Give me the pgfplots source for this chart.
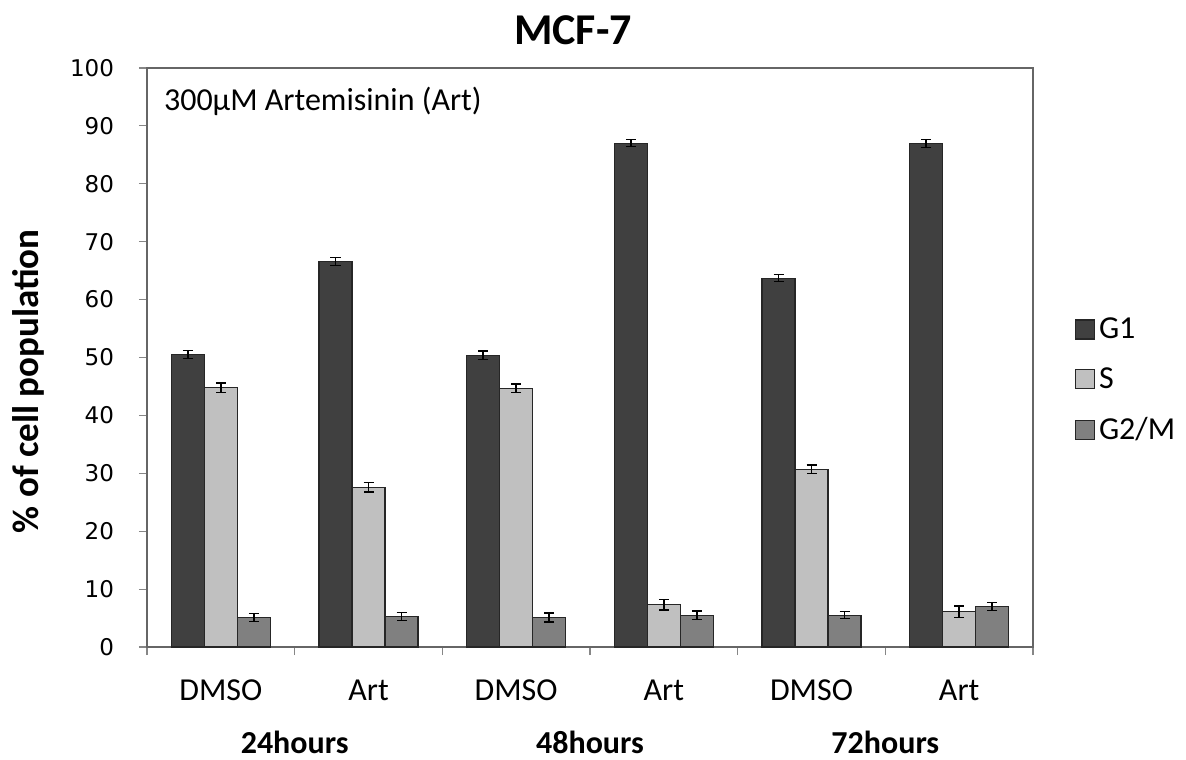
\documentclass[border=0pt]{standalone}
\usepackage{fontspec}
\setmainfont{Carlito}
\newfontfamily\dejavu{DejaVu Sans}
\usepackage{pgfplots}
\usepackage{pgfplotstable}
\pgfplotsset{compat=1.18}
\definecolor{g1c}{HTML}{404040}
\definecolor{sc}{HTML}{C0C0C0}
\definecolor{g2c}{HTML}{808080}
\definecolor{axc}{HTML}{868686}
\newcommand\lbl{\fontsize{16}{19.2}\selectfont}
\pgfplotstableread{
x g1 g1e s se g2 g2e
0 50.5 0.7 44.8 0.8 5.1 0.7
1 66.6 0.7 27.6 0.8 5.3 0.7
2 50.4 0.7 44.7 0.7 5.1 0.8
3 87.0 0.6 7.3 0.9 5.5 0.7
4 63.7 0.6 30.7 0.7 5.5 0.6
5 87.0 0.7 6.1 1.0 7.0 0.7
}\data
\begin{document}
\begin{tikzpicture}
\begin{axis}[
  name=ax,
  scale only axis,
  width=443pt, height=289.5pt,
  ymin=0, ymax=100, xmin=-0.5, xmax=5.5,
  ybar=0pt, bar width=16.5pt,
  ytick={0,10,...,100},
  xtick={-0.5,0.5,...,5.5},
  xticklabels={{},{},{},{},{},{},{}},
  extra x ticks={0,1,2,3,4,5},
  extra x tick labels={DMSO,Art,DMSO,Art,DMSO,Art},
  extra x tick style={major tick length=0pt, xticklabel style={yshift=-13pt}},
  tick align=outside,
  xtick pos=bottom, ytick pos=left,
  major tick length=4pt,
  tick style={draw=axc, line width=0.6pt},
  axis line style={draw=black!60, line width=0.7pt},
  /pgf/number format/assume math mode=true,
  yticklabel style={font=\dejavu\fontsize{11.5}{14}\selectfont, xshift=-9pt},
  xticklabel style={font=\lbl},
  clip=false,
  legend style={draw=none, at={(1.040,0.461)}, anchor=west, font=\lbl, row sep=9pt, fill=none},
  legend cell align=left,
  legend image code/.code={\draw[#1] (-4pt,-4.75pt) rectangle (5.5pt,4.75pt);},
  every axis plot/.append style={draw=black!85, line width=0.6pt,
    error bars/y dir=both, error bars/y explicit,
    error bars/error bar style={black, line width=0.7pt},
    error bars/error mark options={black, rotate=90, mark size=2.5pt, line width=0.7pt}},
]
\addplot[fill=g1c] table[x=x, y=g1, y error=g1e]{\data};
\addplot[fill=sc] table[x=x, y=s, y error=se]{\data};
\addplot[fill=g2c] table[x=x, y=g2, y error=g2e]{\data};
\legend{G1,S,G2/M}
\node[font=\lbl, anchor=west] at (rel axis cs:0,1) [xshift=5pt, yshift=-16.5pt] {300µM Artemisinin (Art)};
\node[font=\bfseries\lbl] at (axis cs:0.5,0) [yshift=-47.5pt] {24hours};
\node[font=\bfseries\lbl] at (axis cs:2.5,0) [yshift=-47.5pt] {48hours};
\node[font=\bfseries\lbl] at (axis cs:4.5,0) [yshift=-47.5pt] {72hours};
\node[font=\bfseries\fontsize{18.5}{22}\selectfont, xshift=-59.5pt, rotate=90] at (rel axis cs:0,0.459) {\% of cell population};
\node[font=\bfseries\fontsize{22}{26}\selectfont] at (rel axis cs:0.5,1) [yshift=19pt, xshift=-8.5pt] {MCF-7};
\end{axis}
\pgfresetboundingbox
\path[use as bounding box] ([shift={(-73.5pt,-56pt)}]ax.south west) rectangle ([shift={(519.5pt,323.5pt)}]ax.south west);
\end{tikzpicture}
\end{document}
